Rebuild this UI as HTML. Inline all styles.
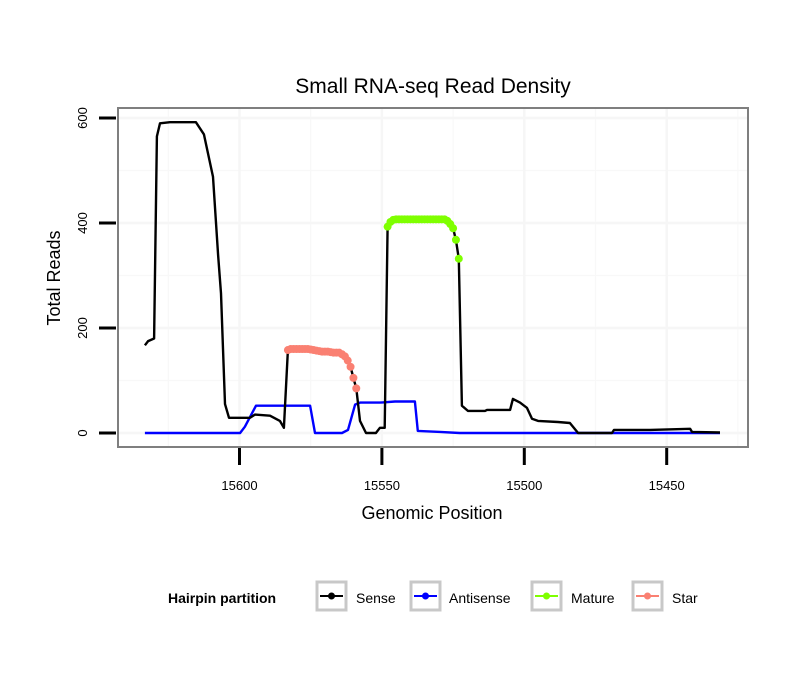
<!DOCTYPE html>
<html><head><meta charset="utf-8"><style>
body{margin:0;background:#fff;}
svg text{font-family:"Liberation Sans",Arial,sans-serif;}
</style></head><body>
<svg id="chart" width="810" height="690" viewBox="0 0 810 690" xmlns="http://www.w3.org/2000/svg">
<rect x="0" y="0" width="810" height="690" fill="#fff"/>
<text x="433" y="93" font-size="21" text-anchor="middle" fill="#000">Small RNA-seq Read Density</text>
<g id="grid"></g>
<g id="marks"></g>
<rect x="118" y="108" width="630" height="339" fill="none" stroke="#7f7f7f" stroke-width="2"/>
<g id="axes"></g>
<text x="432" y="519" font-size="18" text-anchor="middle">Genomic Position</text>
<text transform="translate(60,278) rotate(-90)" font-size="18" text-anchor="middle">Total Reads</text>
<g>
<text x="168" y="603" font-size="14" font-weight="bold">Hairpin partition</text>
<g><rect x="317" y="582" width="29" height="28" fill="#fff" stroke="#c8c8c8" stroke-width="3"/><line x1="320" y1="596" x2="343" y2="596" stroke="#000" stroke-width="2"/><circle cx="331.5" cy="596" r="3.5" fill="#000"/><text x="356" y="603" font-size="14">Sense</text></g>
<g><rect x="411" y="582" width="29" height="28" fill="#fff" stroke="#c8c8c8" stroke-width="3"/><line x1="414" y1="596" x2="437" y2="596" stroke="#0000ff" stroke-width="2"/><circle cx="425.5" cy="596" r="3.5" fill="#0000ff"/><text x="449" y="603" font-size="14">Antisense</text></g>
<g><rect x="532" y="582" width="29" height="28" fill="#fff" stroke="#c8c8c8" stroke-width="3"/><line x1="535" y1="596" x2="558" y2="596" stroke="#7fff00" stroke-width="2"/><circle cx="546.5" cy="596" r="3.5" fill="#7fff00"/><text x="571" y="603" font-size="14">Mature</text></g>
<g><rect x="633" y="582" width="29" height="28" fill="#fff" stroke="#c8c8c8" stroke-width="3"/><line x1="636" y1="596" x2="659" y2="596" stroke="#fa8072" stroke-width="2"/><circle cx="647.5" cy="596" r="3.5" fill="#fa8072"/><text x="672" y="603" font-size="14">Star</text></g>
</g>
</svg>
<script>
const xTicks = [15600, 15550, 15500, 15450];
const xMinor = [15625, 15575, 15525, 15475, 15425];
const yTicks = [0, 200, 400, 600];
const yMinor = [100, 300, 500];
const sensePos = [15633.2,15632.1,15630.0,15629.0,15627.9,15624.4,15615.3,15612.5,15609.3,15607.5,15606.5,15605.1,15603.7,15596.3,15594.6,15589.3,15585.8,15584.4,
15583,15582,15581,15580,15579,15578,15577,15576,15575,15574,15573,15572,15571,15570,15569,15568,15567,15566,15565,15564,15563,15562,15561,15560,15559,
15557.7,15555.6,15552.1,15550.7,15549,
15548,15547,15546,15545,15544,15543,15542,15541,15540,15539,15538,15537,15536,15535,15534,15533,15532,15531,15530,15529,15528,15527,15526,15525,15524,15523,
15521.9,15519.8,15513.8,15513.1,15505.0,15504.0,15501.5,15499.1,15497.3,15495.2,15488.2,15484.0,15481.1,15469.2,15468.5,15455.8,15441.8,15441.1,15431.3];
const senseVal = [167,175,180,565,590,592,592,569,488,339,266,55,29,29,35,33,23,10,
158,160,160,160,160,160,160,160,159,158,157,156,155,155,155,154,153,153,153,150,146,138,126,105,85,
23,0,0,10,10,
393,402,406,407,407,407,407,407,407,407,407,407,407,407,407,407,407,407,407,407,407,404,398,390,368,332,
52,42,42,44,44,65,58,48,27,23,21,19,0,0,6,6,8,2,1];
const antiPos = [15633.2,15599.8,15598.1,15594.2,15575.2,15573.5,15564.0,15561.9,15559.4,15557.7,15550.7,15545.4,15538.4,15537.4,15529.6,15522.7,15431.3];
const antiVal = [0,0,12,52,52,0,0,6,54,58,58,60,60,4,2,0,0];
const starPos = [15583,15582,15581,15580,15579,15578,15577,15576,15575,15574,15573,15572,15571,15570,15569,15568,15567,15566,15565,15564,15563,15562,15561,15560,15559];
const starVal = [158,160,160,160,160,160,160,160,159,158,157,156,155,155,155,154,153,153,153,150,146,138,126,105,85];
const maturePos = [15548,15547,15546,15545,15544,15543,15542,15541,15540,15539,15538,15537,15536,15535,15534,15533,15532,15531,15530,15529,15528,15527,15526,15525,15524,15523];
const matureVal = [393,402,406,407,407,407,407,407,407,407,407,407,407,407,407,407,407,407,407,407,407,404,398,390,368,332];

const NS = 'http://www.w3.org/2000/svg';
function xs(p){ return 239.5 + (15600 - p) * 2.848; }
function ys(v){ return 433 - v * 0.525; }
function mk(tag, attrs, parent){ const e=document.createElementNS(NS,tag); for(const k in attrs) e.setAttribute(k,attrs[k]); parent.appendChild(e); return e; }
const grid=document.getElementById('grid'), marks=document.getElementById('marks'), axes=document.getElementById('axes');
xMinor.forEach(p=>{ const l=mk('line',{x1:xs(p),x2:xs(p),y1:109,y2:446,stroke:'#f8f8f8','stroke-width':1.2},grid);

 });
yMinor.forEach(v=>{ const l=mk('line',{x1:119,x2:747,y1:ys(v),y2:ys(v),stroke:'#f8f8f8','stroke-width':1.2},grid);

 });
xTicks.forEach(p=>{ const l=mk('line',{x1:xs(p),x2:xs(p),y1:109,y2:446,stroke:'#f6f6f6','stroke-width':2.5},grid);


const t=mk('line',{x1:xs(p),x2:xs(p),y1:448,y2:465,stroke:'#000','stroke-width':3},axes);


const tx=mk('text',{x:xs(p),y:490,'font-size':13,'text-anchor':'middle'},axes); tx.textContent=p;

 });
yTicks.forEach(v=>{ const l=mk('line',{x1:119,x2:747,y1:ys(v),y2:ys(v),stroke:'#f6f6f6','stroke-width':2.5},grid);


const t=mk('line',{x1:99,x2:116,y1:ys(v),y2:ys(v),stroke:'#000','stroke-width':3},axes);


const tx=mk('text',{transform:'translate(87,'+ys(v)+') rotate(-90)','font-size':13,'text-anchor':'middle'},axes); tx.textContent=v;

 });
function line(P,V,color,name){ const d=P.map((p,i)=>(i?'L':'M')+xs(p).toFixed(1)+','+ys(V[i]).toFixed(1)).join('');
const e=mk('path',{d:d,fill:'none',stroke:color,'stroke-width':2.4,'stroke-linejoin':'round'},marks);

 }
function dots(P,V,color,name){ P.forEach((p,i)=>{ const c=mk('circle',{cx:xs(p),cy:ys(V[i]),r:4,fill:color},marks);

 }); }
line(antiPos,antiVal,'#0000ff','antisense-line');
line(sensePos,senseVal,'#000','sense-line');
dots(starPos,starVal,'#fa8072','star-point');
dots(maturePos,matureVal,'#7fff00','mature-point');
</script>
</body></html>
